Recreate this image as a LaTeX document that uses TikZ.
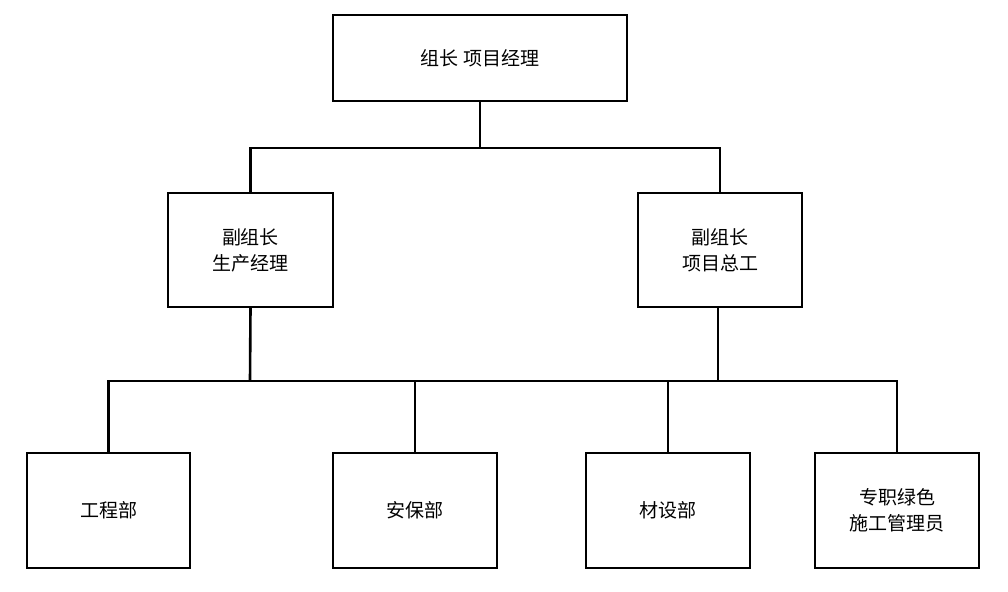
\documentclass[tikz,border=0pt]{standalone}
\usepackage{fontspec}
\newfontfamily\cjk{Noto Sans CJK SC}
\begin{document}
\begin{tikzpicture}[x=0.5pt,y=-0.5pt,
  box/.style={draw=black,line width=1.1pt,minimum width=#1,inner sep=0pt,align=center,font=\cjk\fontsize{9.5}{13}\selectfont},
  conn/.style={line width=1.3pt}]
\useasboundingbox (0,0) rectangle (1008,591);
\node[box=147pt,minimum height=43pt] (top) at (480,58) {组长 项目经理};
\node[box=82.5pt,minimum height=57pt] (lv) at (250.5,250) {副组长\\生产经理};
\node[box=82pt,minimum height=57pt] (rv) at (720,250) {副组长\\项目总工};
\node[box=81.5pt,minimum height=57.5pt] (b1) at (108.5,510.5) {工程部};
\node[box=82pt,minimum height=57.5pt] (b2) at (415,510.5) {安保部};
\node[box=82pt,minimum height=57.5pt] (b3) at (668,510.5) {材设部};
\node[box=82pt,minimum height=57.5pt] (b4) at (897,510.5) {专职绿色\\施工管理员};
\coordinate (t1) at (480,148);
\coordinate (m1) at (250,381);
\coordinate (m2) at (718,381);
\draw[conn] (top.south) -- (t1);
\draw[conn] (lv.north) |- (t1) -| (rv.north);
\draw[conn] (lv.south) -- (m1);
\draw[conn] (rv.south -| m2) -- (m2);
\draw[conn] (b1.north) |- (m1) -- (m2) -| (b4.north);
\draw[conn] (b2.north) -- (b2.north |- m1);
\draw[conn] (b3.north) -- (b3.north |- m1);
\end{tikzpicture}
\end{document}
